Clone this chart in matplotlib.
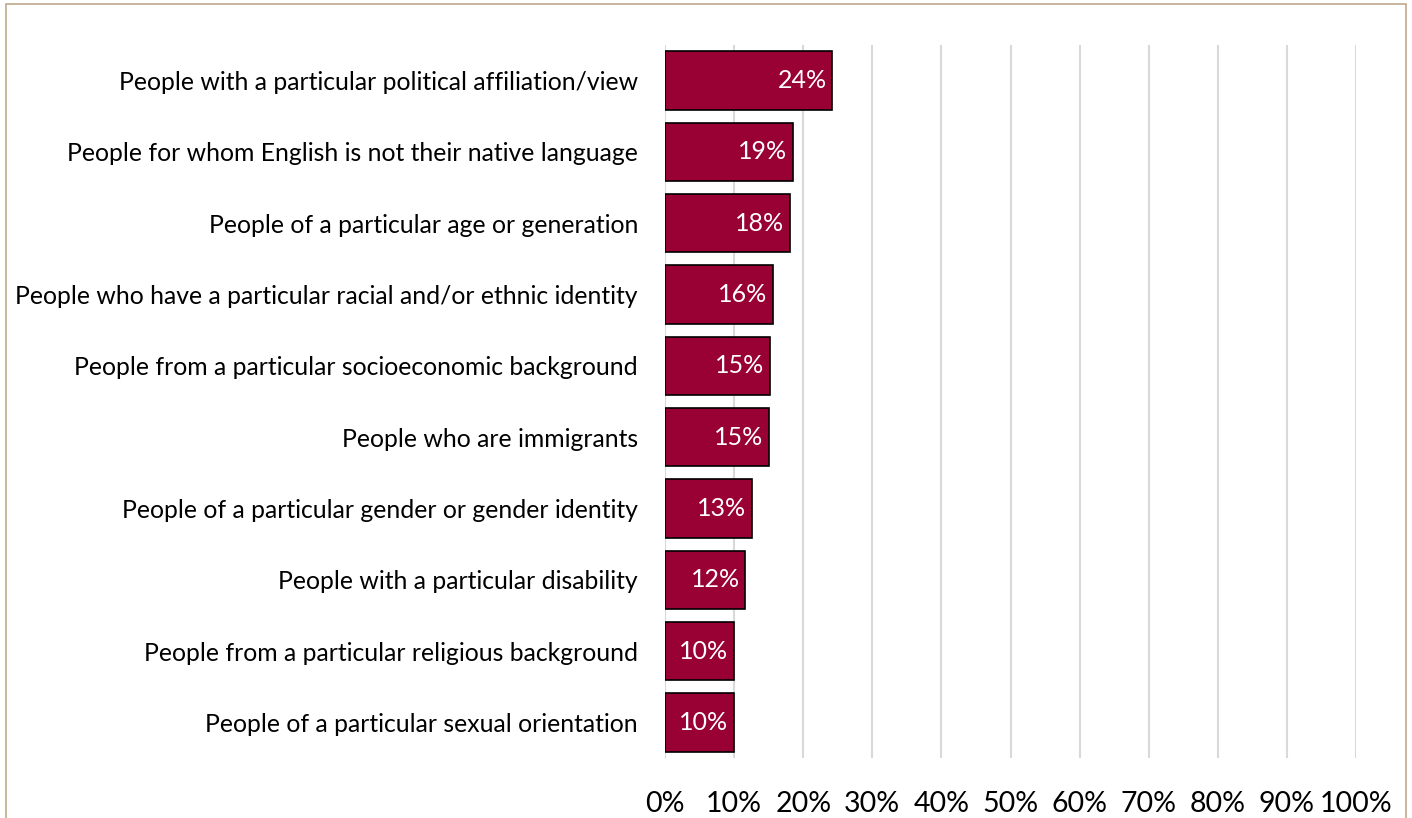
import matplotlib.pyplot as plt
import numpy as np

categorias = [
    "People with a particular political affiliation/view",
    "People for whom English is not their native language",
    "People of a particular age or generation",
    "People who have a particular racial and/or ethnic identity",
    "People from a particular socioeconomic background",
    "People who are immigrants",
    "People of a particular gender or gender identity",
    "People with a particular disability",
    "People from a particular religious background",
    "People of a particular sexual orientation",
]
valores = [24.2, 18.5, 18.1, 15.6, 15.2, 15.0, 12.6, 11.6, 10.0, 10.0]
etiquetas = ["24%", "19%", "18%", "16%", "15%", "15%", "13%", "12%", "10%", "10%"]
ticks = [0, 10, 20, 30, 40, 50, 60, 70, 80, 90, 100]

plt.rcParams['font.family'] = ['Lato', 'DejaVu Sans']

fig = plt.figure(figsize=(14.12, 8.18), dpi=100)
ax = fig.add_axes([665/1412, 1-758/818, (1356-665)/1412, (758-45)/818])

y = np.arange(len(categorias))
ax.barh(y, valores, height=0.82, color="#990033", edgecolor="black", linewidth=1.2, zorder=3)

for i, v in enumerate(valores):
    ax.text(v - 0.8, i, etiquetas[i], ha="right", va="center", color="white", fontsize=18, zorder=4)

ax.set_yticks(y)
ax.set_yticklabels(categorias, fontsize=17.8)
ax.set_ylim(len(categorias) - 0.5, -0.5)
ax.set_xlim(0, 100)
ax.set_xticks(ticks)
ax.set_xticklabels([str(t) + "%" for t in ticks], fontsize=20.5)
ax.tick_params(axis="both", length=0)
ax.tick_params(axis="y", pad=19.5)
ax.tick_params(axis="x", pad=24)
ax.grid(True, axis="x", color="#D9D9D9", linewidth=1.5, zorder=0)
for s in ax.spines.values():
    s.set_visible(False)

# borde del grafico
borde = plt.Rectangle((6/1412, -0.05), 1-12/1412, 1.05 - 4/818, transform=fig.transFigure,
                      fill=False, edgecolor="#BFA98C", linewidth=1.2)
fig.patches.append(borde)

fig.savefig("out.png", dpi=100)
